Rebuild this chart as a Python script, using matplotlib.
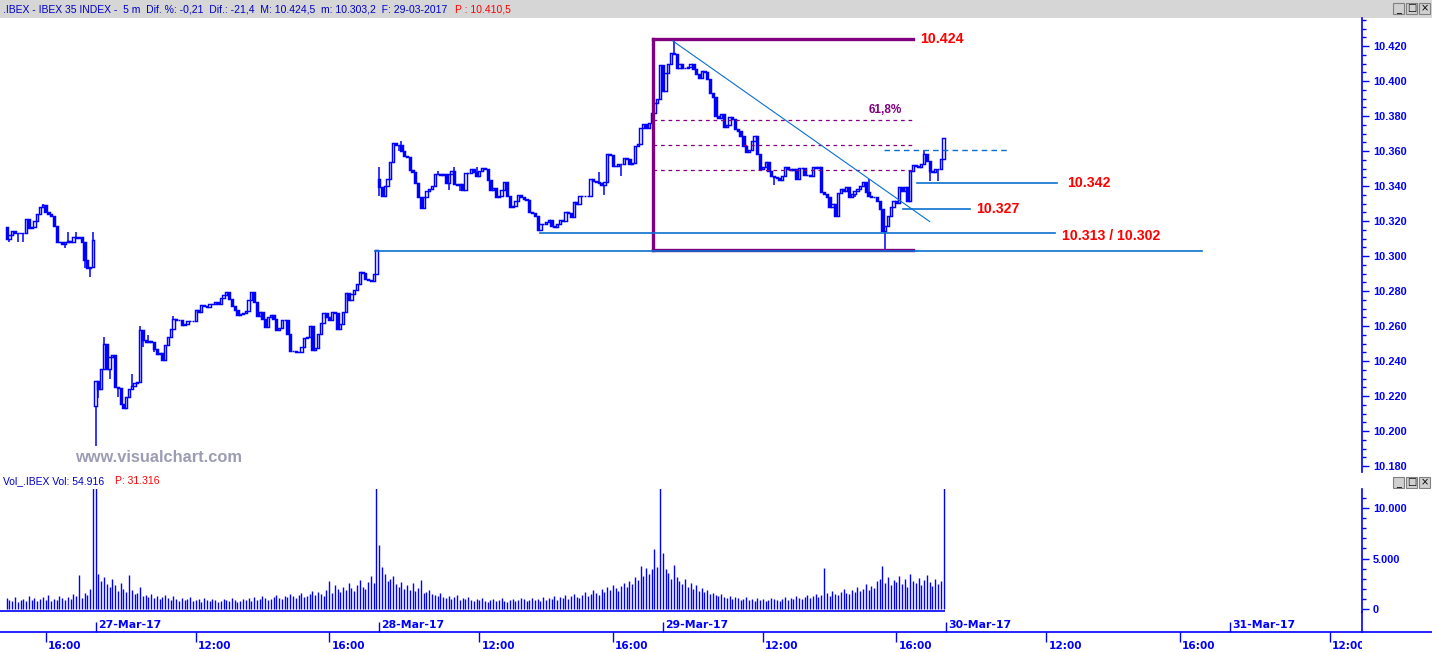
import matplotlib
matplotlib.use("Agg")
import matplotlib.pyplot as plt
from matplotlib.patches import Rectangle
from matplotlib.lines import Line2D

plt.rcParams['font.family'] = ['Liberation Sans', 'DejaVu Sans']

# ---- data (IBEX 35, 5 min bars, points) ----
# bar index: 27-Mar 9:00 = 0, 102 bars per session
day_start = [-32, 0, 102, 204]
day_open = [10316.8, 10214.4, 10344.0, 10409.0]

close_24 = [10310.0, 10312.0, 10314.5, 10313.4, 10313.0, 10313.0, 10313.0, 10321.0,
            10316.0, 10316.5, 10320.0, 10324.0, 10328.0, 10329.0, 10325.0, 10324.0,
            10323.0, 10317.0, 10308.0, 10308.0, 10307.0, 10308.0, 10308.5, 10308.0,
            10311.0, 10310.5, 10311.0, 10308.0, 10298.0, 10293.0, 10294.0, 10309.0]

close_27 = [10228.5, 10224.3, 10235.7, 10250.0, 10235.7, 10242.4, 10243.7, 10225.3,
            10224.7, 10215.7, 10212.9, 10219.5, 10224.3, 10225.8, 10227.2, 10228.1,
            10257.6, 10251.9, 10250.9, 10251.5, 10250.9, 10247.1, 10244.3, 10244.8,
            10240.6, 10249.4, 10253.8, 10258.1, 10264.2, 10263.3, 10263.3, 10260.4,
            10261.4, 10262.7, 10262.9, 10262.9, 10269.3, 10268.0, 10271.8, 10271.4,
            10270.7, 10272.8, 10272.8, 10273.7, 10272.8, 10276.2, 10277.9, 10279.4,
            10275.6, 10271.2, 10268.9,
            10266.1, 10267.0, 10267.4, 10268.4, 10275.0, 10279.6, 10273.7, 10265.7,
            10268.0, 10264.2, 10259.5, 10265.2, 10266.1, 10264.2, 10257.9, 10259.1,
            10263.6, 10263.6, 10255.3, 10245.8, 10245.6, 10245.4, 10245.4, 10248.1,
            10253.4, 10253.8, 10260.2, 10246.2, 10247.7, 10255.7, 10261.7, 10267.4,
            10265.2, 10263.3, 10268.0, 10267.4, 10258.5, 10261.4, 10268.0, 10278.8,
            10274.7, 10278.4, 10280.7, 10284.2, 10290.8, 10290.2, 10287.0, 10286.4,
            10285.7, 10289.9, 10303.2]

close_28 = [10339.6, 10334.5, 10340.2, 10344.0, 10353.5, 10364.3, 10363.6, 10363.2,
            10360.2, 10357.3, 10356.4, 10349.1, 10347.8, 10341.5, 10333.9, 10327.5,
            10333.9, 10337.4, 10338.1, 10340.2, 10346.9, 10346.9, 10346.5, 10346.9,
            10341.5, 10346.9, 10348.4, 10341.2, 10340.8, 10341.2, 10337.7, 10347.2,
            10347.2, 10349.7, 10347.8, 10345.9, 10348.7,
            10350.1, 10349.7, 10343.4, 10337.9, 10338.7, 10333.6, 10334.1, 10337.9,
            10342.1, 10334.1, 10327.9, 10328.4, 10331.7, 10334.9, 10333.7, 10332.6,
            10332.0, 10325.4, 10324.4, 10323.1, 10315.1, 10318.4, 10318.4, 10319.3,
            10320.3, 10317.0, 10316.3, 10318.2, 10320.3, 10320.1, 10325.0, 10324.6,
            10322.2, 10331.1, 10329.8, 10334.5, 10334.1, 10334.5, 10334.5, 10344.0,
            10342.9, 10342.1, 10341.7, 10340.6, 10342.5, 10358.2, 10357.7, 10351.6,
            10351.6, 10352.6, 10352.6, 10355.8, 10355.4, 10352.6, 10352.9, 10363.0,
            10364.0, 10372.9, 10375.4, 10372.9, 10375.9, 10381.6, 10387.7, 10389.6,
            10409.0]

close_29 = [10394.4, 10404.8, 10409.6, 10416.2, 10415.3, 10407.7, 10409.6, 10407.7,
            10407.3, 10408.2, 10409.6, 10406.7, 10403.9, 10402.0, 10405.8, 10405.2,
            10401.0,
            10393.4, 10390.6, 10380.1, 10378.8, 10381.1, 10373.5, 10375.0, 10379.5,
            10378.2, 10372.5, 10371.5, 10368.7, 10363.0, 10359.2, 10360.5, 10365.9,
            10368.7, 10358.2, 10349.7, 10351.0, 10353.5, 10348.8, 10345.9, 10345.0,
            10344.6, 10343.4, 10345.9, 10350.7, 10349.7, 10349.1, 10349.7, 10344.0,
            10350.3, 10350.3, 10346.5, 10346.3, 10345.9, 10351.0, 10350.3, 10350.7,
            10336.4, 10335.5, 10333.6, 10327.9, 10329.8, 10323.1, 10335.8, 10338.3,
            10337.4, 10339.3, 10333.6, 10335.5, 10337.4, 10338.3, 10340.2, 10342.1,
            10336.4, 10334.5, 10333.6, 10333.6, 10331.7, 10326.9, 10314.5, 10317.4,
            10323.1, 10327.9, 10331.7, 10330.1, 10339.3, 10337.4, 10339.3, 10331.7,
            10348.8, 10352.2, 10351.6, 10350.7, 10352.5, 10358.2, 10354.5, 10348.8,
            10347.8, 10349.7, 10349.7, 10355.4, 10367.4]

# wick extremes that reach beyond the candle bodies
wick_high = {-19: 10330.0, -10: 10313.5, -7: 10313.5, -1: 10313.5,
             3: 10253.8, 13: 10232.8, 16: 10260.0, 19: 10255.0, 28: 10266.0,
             102: 10350.6, 110: 10365.9, 123: 10348.5, 129: 10350.6, 137: 10351.0,
             181: 10347.8, 208: 10424.5, 278: 10344.0, 298: 10360.5}
wick_low = {-31: 10308.0, -28: 10308.0, -26: 10308.0, -11: 10304.5, -4: 10293.0, -2: 10288.0,
            0: 10191.6, 1: 10218.6, 5: 10230.0, 8: 10219.5, 17: 10248.0, 21: 10245.0,
            102: 10334.5, 109: 10360.0, 127: 10337.7, 131: 10337.0, 183: 10334.9,
            189: 10345.9, 244: 10340.8, 273: 10333.6, 284: 10303.2, 300: 10343.0,
            303: 10343.0}

vol_24 = [1100, 900, 800, 1200, 700, 900, 1000, 800, 1300, 900, 1100, 800, 1000, 1200,
          900, 1400, 800, 1000, 900, 1300, 1100, 900, 1200, 1000, 1500, 1300, 3400, 1100,
          1600, 1400, 2000, 13000]
vol_27 = [13000, 3500, 2800, 3200, 2500, 2200, 3000, 2400, 1800, 2600, 2000, 1700, 3400,
          1900, 1500, 1600, 2200, 1300, 1400, 1200, 1500, 1100, 1300, 1000, 1200, 1400,
          1100, 900, 1300, 1000, 800, 1100, 900, 1000, 1200, 800, 900, 1000, 700, 1100,
          900, 800, 1000, 900, 700, 800, 1000, 900, 800, 1100,
          900, 700, 800, 1000, 900, 1100, 800, 1200, 900, 1000, 1300, 1100, 900, 1000,
          1200, 1400, 1100, 1000, 1300, 1200, 1500, 1300, 1100, 1400, 1600, 1200, 1300,
          1500, 1800, 1400, 1700, 1500, 1300, 1900, 2800, 1600, 2400, 2000, 1700, 2200,
          1900, 2600, 2100, 1800, 2400, 2900, 2200, 2000, 2700, 3300, 2600, 13000]
vol_28 = [6300, 4200, 3500, 2800, 3000, 3300, 2500, 2200, 2700, 2000, 2400, 1900, 2600,
          1800, 2100, 2900, 1600, 1700, 1900, 1500, 1400, 1300, 1600, 1200, 1100, 1300,
          1000, 1200, 1400, 900, 1100, 1000, 1200, 900, 800, 1000, 900, 1100, 800, 700,
          900, 1000, 800, 900, 1100, 800, 700, 900, 1000, 800,
          900, 1100, 1000, 800, 900, 1100, 900, 1000, 800, 1200, 900, 1100, 1000, 1300,
          900, 1200, 1100, 1400, 1000, 1300, 1500, 1200, 1100, 1400, 1700, 1300, 1500,
          1900, 1600, 1400, 2000, 1700, 2200, 1900, 2400, 2100, 1800, 2300, 2600, 2200,
          2800, 2500, 3200, 2900, 4300, 3300, 4100, 3500, 4000, 5900, 4200, 12500]
vol_29 = [5500, 4000, 3600, 3000, 4400, 3200, 2800, 2500, 3000, 2200, 2600, 2000, 2400,
          1800, 2100, 1700, 1900, 1500, 1600, 1400, 1300, 1500, 1200, 1100, 1300, 1000,
          1200, 1100, 900, 1000, 1200, 900, 1000, 800, 1100, 900, 1000, 800, 900, 1100,
          1000, 900, 800, 1000, 1200, 900, 1100, 1000, 1300, 1100,
          1000, 1200, 1400, 1100, 1300, 1500, 1200, 1400, 4100, 1600, 1300, 1800, 1500,
          1400, 1700, 2000, 1600, 1500, 1900, 1700, 2200, 1800, 2000, 2500, 1900, 2300,
          2100, 2800, 3000, 4300, 2600, 3200, 2400, 2900, 2700, 3300, 2500, 3000, 2200,
          3500, 2800, 2600, 3100, 2400, 2900, 3400, 2700, 2300, 3000, 2500, 2800, 12500]

day_labels = ['27-Mar-17', '28-Mar-17', '29-Mar-17', '30-Mar-17', '31-Mar-17']
day_ticks = [0, 102, 204, 306, 408]
time_ticks = [-18, 36, 84, 138, 186, 240, 288, 342, 390, 444]
time_labels = ['16:00', '12:00', '16:00', '12:00', '16:00', '12:00', '16:00', '12:00', '16:00', '12:00']

fib_hi, fib_lo = 10424.0, 10303.2
fib_levels = [0.618, 0.5, 0.382]

# ---- build OHLC ----
idx, opn, cls, vol = [], [], [], []
for start, op, cl, vv in zip(day_start, day_open, [close_24, close_27, close_28, close_29],
                             [vol_24, vol_27, vol_28, vol_29]):
    prev = op
    for j, v in enumerate(cl):
        idx.append(start + j)
        opn.append(prev)
        cls.append(v)
        vol.append(vv[j])
        prev = v
high = [max(o, c) for o, c in zip(opn, cls)]
low = [min(o, c) for o, c in zip(opn, cls)]
for k, n in enumerate(idx):
    if n in wick_high:
        high[k] = max(high[k], wick_high[n])
    if n in wick_low:
        low[k] = min(low[k], wick_low[n])

# ---- layout in pixels ----
W, H = 1432, 652
fig = plt.figure(figsize=(W / 100, H / 100), dpi=100)
fig.patch.set_facecolor('white')


def px_axes(x0, y0, x1, y1):
    return fig.add_axes([x0 / W, 1 - y1 / H, (x1 - x0) / W, (y1 - y0) / H])


BLUE = '#0000ff'
LINE = '#0a6fd0'
PURPLE = '#800080'
XL = (-34.4, 455.5)

# title bars
bar = px_axes(0, 0, W, 18)
bar.set_xlim(0, W); bar.set_ylim(18, 0); bar.axis('off')
bar.add_patch(Rectangle((0, 0), W, 18, color='#d6d6d6'))
bar.text(3, 9, '.IBEX - IBEX 35 INDEX -  5 m  Dif. %: -0,21  Dif.: -21,4  M: 10.424,5  '
         'm: 10.303,2  F: 29-03-2017', color='#0000c8', fontsize=7.5, va='center')
bar.text(455, 9, 'P : 10.410,5', color='#ff0000', fontsize=7.5, va='center')


def buttons(axb, y):
    for bx, g in zip([1393, 1406, 1419], ['_', '□', '×']):
        axb.add_patch(Rectangle((bx, y), 11, 11, facecolor='#d0d0d0', edgecolor='#808080', lw=0.8))
        axb.text(bx + 5.5, y + 5.5, g, ha='center', va='center', fontsize=7,
                 color='black', family=['DejaVu Sans'])


buttons(bar, 3)

vhead = px_axes(0, 472, W, 489)
vhead.set_xlim(0, W); vhead.set_ylim(489, 472); vhead.axis('off')
vhead.text(3, 481, 'Vol_.IBEX Vol: 54.916', color='#0000c8', fontsize=7.5, va='center')
vhead.text(115, 481, 'P: 31.316', color='#ff0000', fontsize=7.5, va='center')
buttons(vhead, 477)

# ---- price panel ----
ax = px_axes(0, 18, 1362, 472)
ax.set_xlim(*XL)
ax.set_ylim(10176.6, 10436.0)
for s in ['left', 'top', 'bottom']:
    ax.spines[s].set_visible(False)
ax.spines['right'].set_color(BLUE)
ax.spines['right'].set_linewidth(1.2)
ax.set_xticks([])
ax.yaxis.tick_right()
ax.set_yticks(range(10180, 10421, 20))
ax.set_yticks(range(10180, 10436, 5), minor=True)
ax.set_yticklabels([f'{v / 1000:.3f}' for v in range(10180, 10421, 20)])
ax.tick_params(axis='y', which='major', length=5, width=1, color=BLUE, labelcolor=BLUE,
               labelsize=7.9, pad=3)
ax.tick_params(axis='y', which='minor', length=3, width=1, color=BLUE)
for t in ax.get_yticklabels():
    t.set_fontweight('bold')

up = [c >= o for o, c in zip(opn, cls)]
ax.vlines(idx, low, high, color=BLUE, lw=1.1, zorder=2)
ax.bar(idx, [abs(c - o) for o, c in zip(opn, cls)], bottom=[min(o, c) for o, c in zip(opn, cls)],
       width=0.82, facecolor=['white' if u else BLUE for u in up], edgecolor=BLUE,
       linewidth=1.05, zorder=3)

# fibonacci box
ax.plot([200.5, 294], [fib_hi, fib_hi], color=PURPLE, lw=2.4, zorder=4)
ax.plot([200.5, 294], [fib_lo, fib_lo], color=PURPLE, lw=2.4, zorder=4)
ax.plot([200.5, 200.5], [fib_lo, fib_hi], color=PURPLE, lw=2.4, zorder=4)
for f in fib_levels:
    lv = fib_lo + f * (fib_hi - fib_lo)
    ax.plot([200.5, 294], [lv, lv], color=PURPLE, lw=0.9, ls=(0, (3, 3)), zorder=4)
ax.text(278, 10383.5, '61,8%', color=PURPLE, fontsize=8.5, fontweight='bold', va='center')
ax.text(296.5, fib_hi, '10.424', color='#ff0000', fontsize=10.2, fontweight='bold', va='center')

# support / resistance lines
ax.plot([207.6, 300], [10422.9, 10319.7], color=LINE, lw=0.8, zorder=4)
ax.plot([283.6, 328], [10360.7, 10360.7], color=LINE, lw=1.0, ls=(0, (4, 3)), zorder=4)
ax.plot([295.4, 345.8], [10342, 10342], color=LINE, lw=1.2, zorder=4)
ax.plot([290.4, 314.5], [10327, 10327], color=LINE, lw=1.2, zorder=4)
ax.plot([159.8, 345], [10313, 10313], color=LINE, lw=1.2, zorder=4)
ax.plot([100.5, 398], [10302.7, 10302.7], color=LINE, lw=1.2, zorder=4)
ax.text(349.4, 10342, '10.342', color='#ff0000', fontsize=10.2, fontweight='bold', va='center')
ax.text(316.6, 10327, '10.327', color='#ff0000', fontsize=10.2, fontweight='bold', va='center')
ax.text(347.6, 10311.5, '10.313 / 10.302', color='#ff0000', fontsize=10.2, fontweight='bold',
        va='center')

ax.text(0.055, 0.031, 'www.visualchart.com', transform=ax.transAxes, color='#9c9cb4',
        fontsize=11.8, fontweight='bold', va='center')

# ---- volume panel ----
av = px_axes(0, 489, 1362, 612)
av.set_xlim(*XL)
av.set_ylim(-290, 11880)
for s in ['left', 'top', 'bottom']:
    av.spines[s].set_visible(False)
av.spines['right'].set_color(BLUE)
av.spines['right'].set_linewidth(1.2)
av.set_xticks([])
av.yaxis.tick_right()
av.set_yticks([0, 5000, 10000])
av.set_yticklabels(['0', '5.000', '10.000'])
av.set_yticks(range(0, 11001, 1000), minor=True)
av.tick_params(axis='y', which='major', length=5, width=1, color=BLUE, labelcolor=BLUE,
               labelsize=7.9, pad=3)
av.tick_params(axis='y', which='minor', length=3, width=1, color=BLUE)
for t in av.get_yticklabels():
    t.set_fontweight('bold')
av.vlines(idx, 0, vol, color=BLUE, lw=1.0)
av.hlines(-150, XL[0], idx[-1] + 0.5, color=BLUE, lw=1.2)

# ---- time axis ----
at = px_axes(0, 612, 1362, 652)
at.set_xlim(*XL)
at.set_ylim(652, 612)
at.axis('off')
fig.add_artist(Line2D([0, 1], [1 - 632 / H, 1 - 632 / H], color=BLUE, lw=1.2))
fig.add_artist(Line2D([1362 / W, 1362 / W], [1 - 632 / H, 1 - 612 / H], color=BLUE, lw=1.2))
for x, lab in zip(day_ticks, day_labels):
    at.vlines(x, 622, 632, color=BLUE, lw=1.0)
    at.text(x + 0.8, 625, lab, color=BLUE, fontsize=7.8, fontweight='bold', va='center',
            family=['DejaVu Sans'], clip_on=True)
for x, lab in zip(time_ticks, time_labels):
    at.vlines(x, 632, 642, color=BLUE, lw=1.0)
    at.text(x + 0.8, 646, lab, color=BLUE, fontsize=7.6, fontweight='bold', va='center',
            family=['DejaVu Sans'], clip_on=True)

fig.savefig('out.png', dpi=100, facecolor='white')
